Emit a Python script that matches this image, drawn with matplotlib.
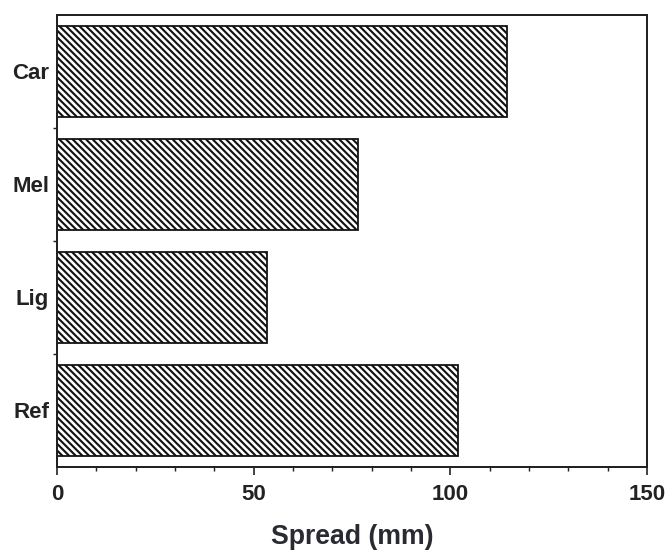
import numpy as np
import matplotlib
matplotlib.use('Agg')
import matplotlib.pyplot as plt
from matplotlib.ticker import MultipleLocator, FixedLocator

# spread values, bottom to top
groups = ['Ref', 'Lig', 'Mel', 'Car']
spread = [102, 53.5, 76.5, 114.5]

plt.rcParams['font.family'] = ['Liberation Sans', 'DejaVu Sans']
plt.rcParams['hatch.linewidth'] = 1.9
plt.rcParams['hatch.color'] = '#3a3a3a'

fig = plt.figure(figsize=(8.35, 6.8875), dpi=80)
ax = fig.add_axes([0.0853, 0.1525, 0.8833, 0.8203])

pos = np.arange(len(groups))
ax.barh(pos, spread, height=0.8, color='white', edgecolor='#111111',
        linewidth=1.6, hatch='\\\\\\\\')

ax.set_xlim(0, 150)
ax.set_ylim(-0.5, 3.5)
ax.xaxis.set_major_locator(MultipleLocator(50))
ax.xaxis.set_minor_locator(MultipleLocator(10))
ax.set_yticks(pos)
ax.set_yticklabels(groups)
ax.yaxis.set_minor_locator(FixedLocator([0.5, 1.5, 2.5]))

ax.tick_params(axis='x', which='major', direction='out', length=7, width=1.5,
               pad=8, labelsize=20, colors='#222222')
ax.tick_params(axis='x', which='minor', direction='out', length=4, width=1.3,
               colors='#222222')
ax.tick_params(axis='y', which='major', length=0, pad=7, labelsize=20,
               colors='#222222')
ax.tick_params(axis='y', which='minor', direction='out', length=4, width=1.3,
               colors='#222222')
for lab in ax.get_xticklabels() + ax.get_yticklabels():
    lab.set_fontweight('bold')

for s in ax.spines.values():
    s.set_linewidth(1.8)
    s.set_color('#222222')

ax.set_xlabel('Spread (mm)', fontsize=24, fontweight='bold', color='#2a2a33',
              labelpad=17)

fig.savefig('out.png', dpi=80)
